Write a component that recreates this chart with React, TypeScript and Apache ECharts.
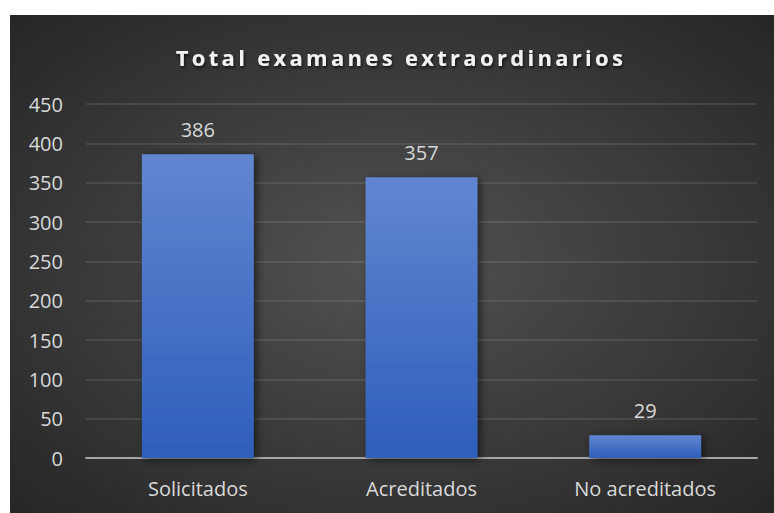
import React, { useEffect, useRef } from "react";
import * as echarts from "echarts";

const titleText = "Total examanes extraordinarios";
const categories = ["Solicitados", "Acreditados", "No acreditados"];
const values = [386, 357, 29];
const yMax = 450;
const yInterval = 50;

export default function App() {
  const ref = useRef<HTMLDivElement>(null);
  useEffect(() => {
    if (!ref.current) return;
    const chart = echarts.init(ref.current, null, { renderer: "svg" });
    const font = "'Open Sans', sans-serif";
    chart.setOption({
      animation: false,
      backgroundColor: "#ffffff",
      graphic: [
        {
          type: "rect",
          z: -10,
          silent: true,
          shape: { x: 10, y: 15, width: 764, height: 498 },
          style: {
            fill: new echarts.graphic.RadialGradient(0.5, 0.5, 0.75, [
              { offset: 0, color: "#525252" },
              { offset: 1, color: "#232323" },
            ]),
          },
        },
      ],
      title: {
        text: titleText,
        left: 396,
        top: 41,
        textAlign: "center",
        textStyle: {
          color: "#f2f2f2",
          fontSize: 22,
          fontWeight: "bold",
          fontFamily: font,
          textShadowColor: "rgba(0,0,0,0.7)",
          textShadowBlur: 3,
          textShadowOffsetX: 1,
          textShadowOffsetY: 2,
        },
      },
      grid: { left: 86, right: 17, top: 104, bottom: 55 },
      xAxis: {
        type: "category",
        data: categories,
        axisTick: { show: false },
        axisLine: { lineStyle: { color: "#a6a6a6", width: 2 } },
        axisLabel: { color: "#d9d9d9", fontSize: 20, fontFamily: font, margin: 20 },
      },
      yAxis: {
        type: "value",
        min: 0,
        max: yMax,
        interval: yInterval,
        axisLine: { show: false },
        axisTick: { show: false },
        axisLabel: { color: "#d9d9d9", fontSize: 20, fontFamily: font, margin: 23 },
        splitLine: { lineStyle: { color: "rgba(255,255,255,0.13)", width: 1.5 } },
      },
      series: [
        {
          type: "bar",
          data: values,
          barWidth: "50%",
          itemStyle: {
            color: new echarts.graphic.LinearGradient(0, 0, 0, 1, [
              { offset: 0, color: "#6286d1" },
              { offset: 1, color: "#2d5eba" },
            ]),
            shadowColor: "rgba(0,0,0,0.55)",
            shadowBlur: 8,
            shadowOffsetX: 3,
            shadowOffsetY: 2,
          },
          label: {
            show: true,
            position: "top",
            distance: 15,
            color: "#d9d9d9",
            fontSize: 20,
            fontFamily: font,
          },
        },
      ],
    });
    const patch = () => {
      const texts = ref.current?.querySelectorAll("text") || [];
      texts.forEach((t) => {
        if (t.textContent === titleText) {
          t.setAttribute("letter-spacing", "3.3");
        }
      });
    };
    chart.on("rendered", patch);
    patch();
    return () => chart.dispose();
  }, []);
  return (
    <div
      ref={ref}
      style={{ position: "absolute", left: 0, top: 0, width: 774, height: 513 }}
    />
  );
}
